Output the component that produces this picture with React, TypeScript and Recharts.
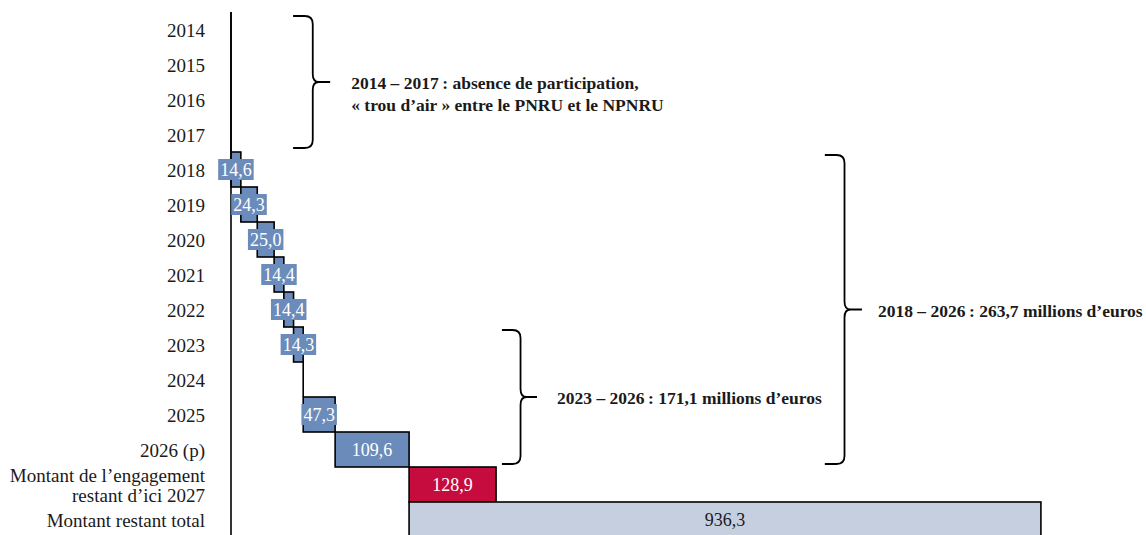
import React from "react";
import { BarChart, Bar, XAxis, YAxis, LabelList, ReferenceArea } from "recharts";

// Participation par année (millions d'euros), puis engagement restant et total restant
const categories = [
  "2014",
  "2015",
  "2016",
  "2017",
  "2018",
  "2019",
  "2020",
  "2021",
  "2022",
  "2023",
  "2024",
  "2025",
  "2026 (p)",
  "Montant de l’engagement\nrestant d’ici 2027",
  "Montant restant total",
];
const amounts = [0, 0, 0, 0, 14.6, 24.3, 25.0, 14.4, 14.4, 14.3, 0, 47.3, 109.6, 128.9, 936.3];
const kinds = [
  "year", "year", "year", "year", "year", "year", "year", "year", "year", "year", "year", "year", "year",
  "engagement",
  "total",
];

const COLORS: Record<string, string> = {
  year: "#6b8cba",
  engagement: "#c60c3e",
  total: "#c5cfe0",
};
const LABEL_COLORS: Record<string, string> = {
  year: "#ffffff",
  engagement: "#ffffff",
  total: "#1a1a1a",
};

const FONT = "'Liberation Serif', 'Times New Roman', serif";

// cumul des versements annuels : base des deux dernières barres
const yearsTotal = amounts.reduce((s, v, i) => (kinds[i] === "year" ? s + v : s), 0);

let running = 0;
const data = categories.map((name, i) => {
  const kind = kinds[i];
  let base = yearsTotal;
  if (kind === "year") {
    base = running;
    running += amounts[i];
  }
  return { name, base, value: amounts[i], kind };
});

const fmt = (v: number) => v.toFixed(1).replace(".", ",");

const WaterfallBar = (props: any) => {
  const { x, y, width, height, payload } = props;
  if (!width || width < 0.5) {
    return <line x1={x} x2={x} y1={y} y2={y + height} stroke="#000" strokeWidth={1.6} />;
  }
  return (
    <rect
      x={x}
      y={y}
      width={width}
      height={height}
      fill={COLORS[payload.kind]}
      stroke="#000"
      strokeWidth={1.6}
    />
  );
};

const ValueLabel = (props: any) => {
  const vb = props.viewBox ?? props;
  const { x, y, width, height } = vb;
  const { value, index } = props;
  if (!value) return null;
  const d = data[index];
  const text = fmt(value);
  const boxW = (text.replace(",", "").length * 0.5 + 0.25) * 18 + 4;
  const cx = x + width / 2;
  const cy = y + height / 2;
  return (
    <g>
      <rect x={cx - boxW / 2} y={cy - 10.5} width={boxW} height={21} fill={COLORS[d.kind]} />
      <text
        x={cx}
        y={cy}
        dy="0.35em"
        textAnchor="middle"
        fill={LABEL_COLORS[d.kind]}
        fontSize={18}
        fontFamily={FONT}
      >
        {text}
      </text>
    </g>
  );
};

const CategoryTick = (props: any) => {
  const { x, y, payload } = props;
  const lines = String(payload.value).split("\n");
  const lineH = 20;
  const start = -((lines.length - 1) * lineH) / 2 + 1;
  return (
    <text x={x} y={y} textAnchor="end" fill="#1a1a1a" fontSize={19} fontFamily={FONT}>
      {lines.map((line, i) => (
        <tspan key={i} x={x} y={y + start + i * lineH} dy="0.35em">
          {line}
        </tspan>
      ))}
    </text>
  );
};

const Brace = (props: any) => {
  const { x, y, width, height, lines, inset, gap } = props;
  const top = y + inset;
  const bottom = y + height - inset;
  const mid = (top + bottom) / 2;
  const xv = x + width * 0.53;
  const xt = x + width;
  const r = 8;
  const d = [
    `M${x},${top}`,
    `L${xv - r},${top}`,
    `Q${xv},${top} ${xv},${top + r}`,
    `L${xv},${mid - r}`,
    `Q${xv},${mid} ${xv + 6},${mid}`,
    `L${xt},${mid}`,
    `M${xv + 6},${mid}`,
    `Q${xv},${mid} ${xv},${mid + r}`,
    `L${xv},${bottom - r}`,
    `Q${xv},${bottom} ${xv - r},${bottom}`,
    `L${x},${bottom}`,
  ].join(" ");
  return (
    <g>
      <path d={d} fill="none" stroke="#000" strokeWidth={1.8} />
      <text fontSize={17.5} fontWeight="bold" fontFamily={FONT} fill="#1a1a1a">
        {lines.map((line: string, i: number) => (
          <tspan key={i} x={xt + gap} y={mid + 1 + i * 22} dy="0.35em">
            {line}
          </tspan>
        ))}
      </text>
    </g>
  );
};

export default function App() {
  return (
    <div
      style={{
        position: "absolute",
        left: 0,
        top: 0,
        width: 1146,
        height: 535,
        overflow: "hidden",
        background: "#fff",
      }}
    >
      <BarChart
        width={1146}
        height={538}
        data={data}
        layout="vertical"
        barCategoryGap={0}
        margin={{ top: 12, right: 4, bottom: 1, left: 0 }}
      >
        <XAxis type="number" domain={[0, 1350]} hide />
        <YAxis
          type="category"
          dataKey="name"
          width={231}
          interval={0}
          tickLine={false}
          tickSize={0}
          tickMargin={26}
          axisLine={{ stroke: "#000", strokeWidth: 1.6 }}
          tick={<CategoryTick />}
        />
        <Bar dataKey="base" stackId="w" fill="transparent" isAnimationActive={false} />
        <Bar dataKey="value" stackId="w" shape={<WaterfallBar />} isAnimationActive={false}>
          <LabelList dataKey="value" content={<ValueLabel />} />
        </Bar>
        <ReferenceArea
          x1={92}
          x2={147}
          y1="2014"
          y2="2017"
          shape={(p: any) => (
            <Brace
              {...p}
              inset={4}
              gap={21}
              lines={["2014 – 2017\u2009: absence de participation,", "« trou d’air » entre le PNRU et le NPNRU"]}
            />
          )}
        />
        <ReferenceArea
          x1={401.5}
          x2={453.5}
          y1="2023"
          y2="2026 (p)"
          shape={(p: any) => (
            <Brace {...p} inset={3} gap={20} lines={["2023 – 2026\u2009: 171,1 millions d’euros"]} />
          )}
        />
        <ReferenceArea
          x1={880}
          x2={935}
          y1="2018"
          y2="2026 (p)"
          shape={(p: any) => (
            <Brace {...p} inset={3} gap={16} lines={["2018 – 2026\u2009: 263,7 millions d’euros"]} />
          )}
        />
      </BarChart>
    </div>
  );
}
